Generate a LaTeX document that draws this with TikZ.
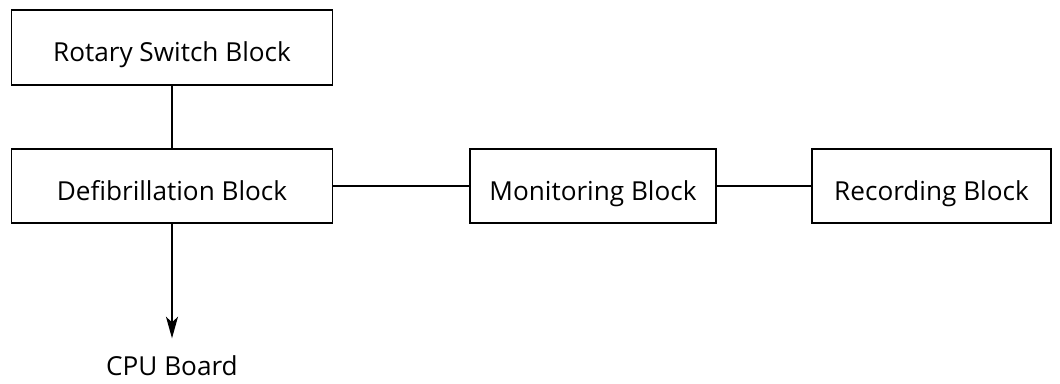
\documentclass[tikz,border=0pt]{standalone}
\usepackage{fontspec}
\setmainfont{Open Sans}
\usetikzlibrary{arrows.meta}
\tikzset{
  block/.style={draw, line width=1.4pt, minimum height=1.85cm, inner sep=0pt,
    text height=0.7cm, text depth=0cm, font=\fontsize{18.6}{22}\selectfont},
  link/.style={draw, line width=1.4pt},
}
\begin{document}
\begin{tikzpicture}
\useasboundingbox (0,0) rectangle (26.5,9.575);
\node[block, minimum width=8.025cm, minimum height=1.875cm] (rotary) at (4.3,8.3875) {Rotary Switch Block};
\node[block, minimum width=8.025cm] (defib) at (4.3,4.925) {Defibrillation Block};
\node[block, minimum width=6.15cm] (monitor) at (14.825,4.925) {Monitoring Block};
\node[block, minimum width=5.975cm] (record) at (23.2875,4.925) {Recording Block};
\node[anchor=base, inner xsep=0pt, inner ysep=0.45cm, text height=0.46cm, text depth=0cm,
  font=\fontsize{18.6}{22}\selectfont] (cpu) at (4.3,0.2) {CPU Board};
\path[link,-] (rotary) -- (defib);
\path[link,-] (defib) -- (monitor);
\path[link,-] (monitor) -- (record);
\path[link,-{Stealth[length=5.4mm,width=3mm,inset=1.4mm]}] (defib) -- (cpu);
\end{tikzpicture}
\end{document}
